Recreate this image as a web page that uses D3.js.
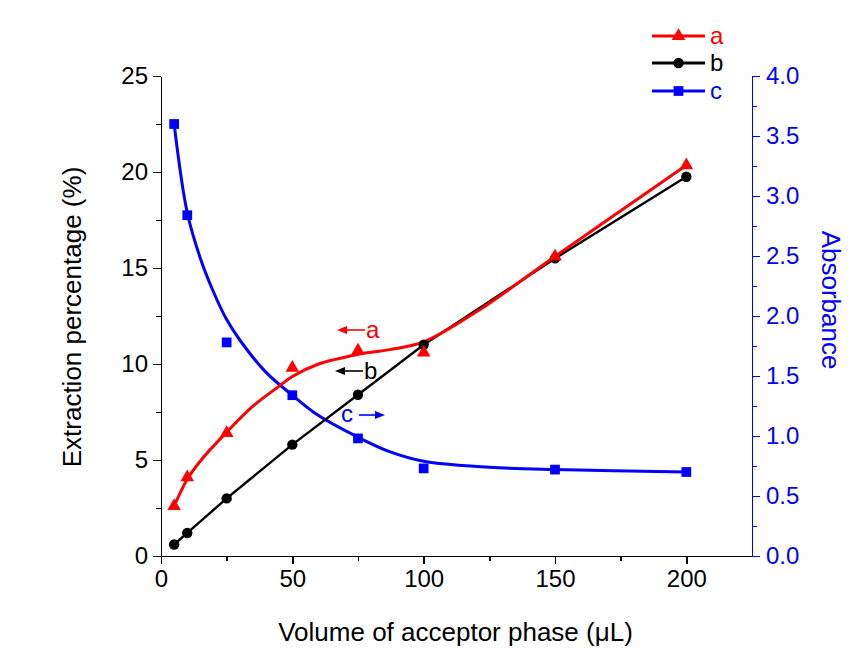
<!DOCTYPE html>
<head>
  <meta charset="utf-8">
  <title>Extraction percentage vs volume</title>
<style>
body, html {
  margin: 0;
  background: #fff;
}
svg text {
  font-family: "Liberation Sans", Arial, sans-serif;
}
.axis path, .axis line {
  shape-rendering: crispEdges;
}
</style>
</head>
<body>
<div id="chart"></div>
<script src="https://d3js.org/d3.v7.min.js"></script>
<script type="text/javascript">

// measured points
var volumes = [5, 10, 25, 50, 75, 100, 150, 200];
var seriesA = [2.6, 4.1, 6.4, 9.8, 10.7, 10.6, 15.6, 20.35];
var seriesB = [0.6, 1.2, 3.0, 5.8, 8.4, 11.0, 15.5, 19.75];
var seriesC = [3.6, 2.84, 1.78, 1.34, 0.98, 0.73, 0.72, 0.70];

// smoothed curves
var curveAx = [5, 10, 15, 25, 35, 45, 50, 60, 75, 87, 100, 121, 150, 200];
var curveAy = [2.6, 4.0, 4.95, 6.45, 7.8, 8.85, 9.35, 10.0, 10.5, 10.75, 11.15, 12.8, 15.6, 20.35];
var curveCx = [5, 10, 15, 20, 25, 30, 40, 50, 60, 75, 87, 100, 125, 150, 200];
var curveCy = [3.6, 2.86, 2.48, 2.2, 1.97, 1.8, 1.53, 1.34, 1.17, 0.99, 0.87, 0.79, 0.74, 0.72, 0.70];

var leftTicks = [0, 5, 10, 15, 20, 25];
var rightTicks = [0, 0.5, 1, 1.5, 2, 2.5, 3, 3.5, 4];
var xTicks = [0, 50, 100, 150, 200];

var width = 856, height = 658;
var margin = {top: 76, right: 104, bottom: 102, left: 161};

var svg = d3.select("#chart").append("svg")
    .attr("width", width)
    .attr("height", height);

var x = d3.scaleLinear().domain([0, 225]).range([margin.left, width - margin.right]);
var y = d3.scaleLinear().domain([0, 25]).range([height - margin.bottom, margin.top]);
var y2 = d3.scaleLinear().domain([0, 4]).range([height - margin.bottom, margin.top]);

var red = "#ff0000", blue = "#0000ff";

// axes
svg.append("g").attr("class", "axis")
    .attr("transform", "translate(0," + y(0) + ")")
    .call(d3.axisBottom(x).tickValues(xTicks).tickSize(8).tickSizeOuter(0).tickPadding(6));
svg.append("g").attr("class", "axis")
    .attr("transform", "translate(0," + y(0) + ")")
    .call(d3.axisBottom(x).tickValues([25, 75, 125, 175]).tickSize(5).tickSizeOuter(0).tickFormat(""))
    .select(".domain").remove();

svg.append("g").attr("class", "axis")
    .attr("transform", "translate(" + x(0) + ",0)")
    .call(d3.axisLeft(y).tickValues(leftTicks).tickSize(8).tickSizeOuter(0).tickPadding(5));
svg.append("g").attr("class", "axis")
    .attr("transform", "translate(" + x(0) + ",0)")
    .call(d3.axisLeft(y).tickValues([2.5, 7.5, 12.5, 17.5, 22.5]).tickSize(5).tickFormat(""))
    .select(".domain").remove();

var rAxis = svg.append("g").attr("class", "axis")
    .attr("transform", "translate(" + x(225) + ",0)")
    .call(d3.axisRight(y2).tickValues(rightTicks).tickSize(8).tickSizeOuter(0).tickPadding(6)
      .tickFormat(d3.format(".1f")));
var rMinor = svg.append("g").attr("class", "axis")
    .attr("transform", "translate(" + x(225) + ",0)")
    .call(d3.axisRight(y2).tickValues([0.25, 0.75, 1.25, 1.75, 2.25, 2.75, 3.25, 3.75]).tickSize(5).tickFormat(""));
rMinor.select(".domain").remove();

svg.selectAll(".axis path, .axis line").attr("stroke-width", 1.6);
svg.selectAll(".axis text").attr("font-size", 24).attr("fill", "#000");
rAxis.selectAll("path, line").attr("stroke", blue);
rMinor.selectAll("line").attr("stroke", blue);
rAxis.selectAll("text").attr("fill", blue);

// axis titles
svg.append("text")
    .attr("x", (x(0) + x(225)) / 2 - 1)
    .attr("y", 641)
    .attr("text-anchor", "middle")
    .attr("font-size", 26)
    .text("Volume of acceptor phase (μL)");

svg.append("text")
    .attr("transform", "translate(81," + (y(12.5) + 1) + ") rotate(-90)")
    .attr("text-anchor", "middle")
    .attr("font-size", 26)
    .text("Extraction percentage (%)");

svg.append("text")
    .attr("transform", "translate(822," + (y(12.5) - 16) + ") rotate(90)")
    .attr("text-anchor", "middle")
    .attr("font-size", 26)
    .attr("fill", blue)
    .text("Absorbance");

// lines
var lineL = d3.line().x(function(d) { return x(d[0]); }).y(function(d) { return y(d[1]); })
    .curve(d3.curveCatmullRom.alpha(0.5));
var lineR = d3.line().x(function(d) { return x(d[0]); }).y(function(d) { return y2(d[1]); })
    .curve(d3.curveCatmullRom.alpha(0.5));

svg.append("path")
    .datum(d3.zip(curveCx, curveCy))
    .attr("fill", "none").attr("stroke", blue).attr("stroke-width", 3)
    .attr("d", lineR);

svg.append("path")
    .datum(d3.zip(volumes, seriesB))
    .attr("fill", "none").attr("stroke", "#000").attr("stroke-width", 2.4)
    .attr("d", d3.line().x(function(d) { return x(d[0]); }).y(function(d) { return y(d[1]); }));

svg.append("path")
    .datum(d3.zip(curveAx, curveAy))
    .attr("fill", "none").attr("stroke", red).attr("stroke-width", 3)
    .attr("d", lineL);

// markers
var tri = d3.symbol().type(d3.symbolTriangle).size(80);
var dot = d3.symbol().type(d3.symbolCircle).size(85);
var sq = d3.symbol().type(d3.symbolSquare).size(95);

svg.selectAll(".mc").data(d3.zip(volumes, seriesC)).enter().append("path")
    .attr("class", "mc")
    .attr("transform", function(d) { return "translate(" + x(d[0]) + "," + y2(d[1]) + ")"; })
    .attr("d", sq).attr("fill", blue);

svg.selectAll(".mb").data(d3.zip(volumes, seriesB)).enter().append("path")
    .attr("class", "mb")
    .attr("transform", function(d) { return "translate(" + x(d[0]) + "," + y(d[1]) + ")"; })
    .attr("d", dot).attr("fill", "#000");

svg.selectAll(".ma").data(d3.zip(volumes, seriesA)).enter().append("path")
    .attr("class", "ma")
    .attr("transform", function(d) { return "translate(" + x(d[0]) + "," + y(d[1]) + ")"; })
    .attr("d", tri).attr("fill", red);

// arrow annotations
function arrow(x1, x2, yy, color) {
  var dir = x2 > x1 ? 1 : -1;
  svg.append("line")
      .attr("x1", x1).attr("x2", x2 - dir * 6).attr("y1", yy).attr("y2", yy)
      .attr("stroke", color).attr("stroke-width", 1.6);
  svg.append("path")
      .attr("d", "M" + x2 + "," + yy + "L" + (x2 - dir * 10) + "," + (yy - 4) + "L" + (x2 - dir * 10) + "," + (yy + 4) + "Z")
      .attr("fill", color);
}
arrow(365, 337, 330, red);
svg.append("text").attr("x", 366).attr("y", 338).attr("font-size", 24).attr("fill", red).text("a");
arrow(363, 335, 371, "#000");
svg.append("text").attr("x", 364).attr("y", 379).attr("font-size", 24).attr("fill", "#000").text("b");
svg.append("text").attr("x", 341).attr("y", 422).attr("font-size", 24).attr("fill", blue).text("c");
arrow(359, 385, 415, blue);

// legend
var legend = [
  {name: "a", color: red, sym: tri, y: 36},
  {name: "b", color: "#000", sym: dot, y: 63},
  {name: "c", color: blue, sym: sq, y: 91}
];
legend.forEach(function(l) {
  svg.append("line")
      .attr("x1", 652).attr("x2", 705).attr("y1", l.y).attr("y2", l.y)
      .attr("stroke", l.color).attr("stroke-width", 3);
  svg.append("path")
      .attr("transform", "translate(678.5," + l.y + ")")
      .attr("d", l.sym).attr("fill", l.color);
  svg.append("text")
      .attr("x", 710).attr("y", l.y + 8)
      .attr("font-size", 24).attr("fill", l.color)
      .text(l.name);
});

</script>
</body>
